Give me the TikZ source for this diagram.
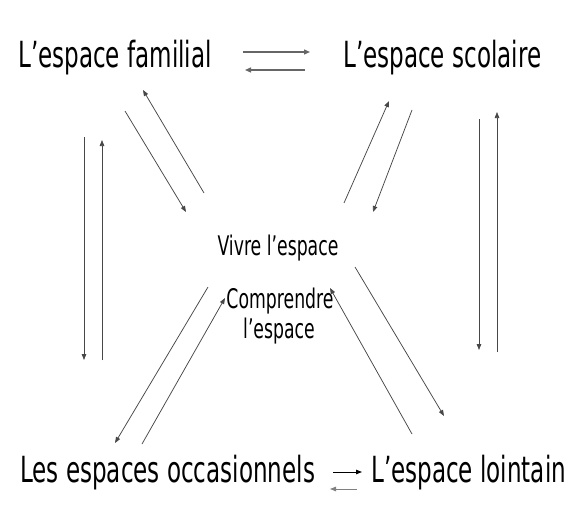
\documentclass[tikz,border=0pt]{standalone}
\usepackage{fontspec}
\newfontfamily\lblfont[FakeStretch=0.64]{DejaVu Sans}
\usetikzlibrary{arrows.meta}
\begin{document}
\begin{tikzpicture}[x=1pt,y=-1pt,
  lbl/.style={font=\lblfont\fontsize{36}{40}\selectfont, inner sep=0pt, anchor=base west},
  ctr/.style={font=\lblfont\fontsize{27}{30}\selectfont, inner sep=0pt, anchor=base},
  link/.style={draw=black!72, line width=0.75pt},
  arr/.style={link, -{Triangle[length=6pt,width=4.5pt]}},
  harr/.style={arr, draw=black!60, line width=1.3pt, -{Triangle[length=6pt,width=5pt]}}]
\fill[white] (0,0) rectangle (577,508);
\useasboundingbox (0,0) rectangle (577,508);
% labels
\node[lbl] (fam) at (18,68) {L’espace familial};
\node[lbl] (sco) at (343,68) {L’espace scolaire};
\node[lbl] (occ) at (20,482) {Les espaces occasionnels};
\node[lbl] (loin) at (371,482) {L’espace lointain};
\node[ctr] (vivre) at (278,255) {Vivre l’espace};
\node[ctr] (comp) at (280,308) {Comprendre};
\node[ctr] (lesp) at (279,338) {l’espace};
% endpoints
\coordinate (t1a) at (243,52);  \coordinate (t1b) at (310,52);
\coordinate (t2a) at (305,70);  \coordinate (t2b) at (245,70);
\coordinate (l1a) at (204,193); \coordinate (l1b) at (143,90);
\coordinate (l2a) at (125,111); \coordinate (l2b) at (186,212);
\coordinate (v1a) at (84,137);  \coordinate (v1b) at (84,360);
\coordinate (v2a) at (102,360); \coordinate (v2b) at (102,140);
\coordinate (r1a) at (344,203); \coordinate (r1b) at (389,101);
\coordinate (r2a) at (412,110); \coordinate (r2b) at (373,212);
\coordinate (w1a) at (479,119); \coordinate (w1b) at (479,350);
\coordinate (w2a) at (497,352); \coordinate (w2b) at (497,112);
\coordinate (d1a) at (208,287); \coordinate (d1b) at (115,443);
\coordinate (d2a) at (142,444); \coordinate (d2b) at (225,298);
\coordinate (e1a) at (412,434); \coordinate (e1b) at (330,288);
\coordinate (e2a) at (355,267); \coordinate (e2b) at (444,416);
\coordinate (b1a) at (333,472); \coordinate (b1b) at (362,472);
\coordinate (b2a) at (357,489); \coordinate (b2b) at (330,489);
% arrows
\foreach \p in {l1,l2,v1,v2,r1,r2,w1,w2,d1,d2,e1,e2}
  \draw[arr] (\p a) -- (\p b);
\draw[harr] (t1a) -- (t1b);
\draw[harr] (t2a) -- (t2b);
\draw[arr, draw=black, line width=1pt] (b1a) -- (b1b);
\draw[arr, draw=black!50, line width=1pt] (b2a) -- (b2b);
\end{tikzpicture}
\end{document}
